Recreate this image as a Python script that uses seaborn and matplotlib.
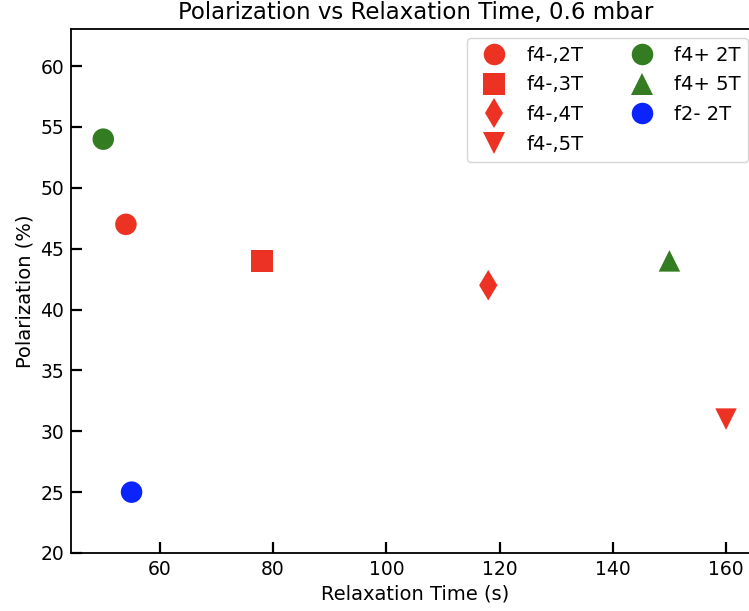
import matplotlib
matplotlib.use("Agg")
import matplotlib.pyplot as plt
import seaborn as sns
import pandas as pd

labels = ["f4-,2T", "f4-,3T", "f4-,4T", "f4-,5T", "f4+ 2T", "f4+ 5T", "f2- 2T"]
relax_time = [54, 78, 118, 160, 50, 150, 55]
polarization = [47, 44, 42, 31, 54, 44, 25]
colors = ["#ec3323", "#ec3323", "#ec3323", "#ec3323", "#347c22", "#347c22", "#0b24fb"]
markers = ["o", "s", "d", "v", "o", "^", "o"]

df = pd.DataFrame({"label": labels, "t": relax_time, "p": polarization})

sns.set_style("ticks")
plt.rcParams["font.family"] = ["DejaVu Sans"]
plt.rcParams["text.color"] = "black"
plt.rcParams["axes.labelcolor"] = "black"

fig = plt.figure(figsize=(7.49, 6.11), dpi=100)
ax = fig.add_axes([71 / 749, 58 / 611, 689 / 749, 524 / 611])

sns.scatterplot(data=df, x="t", y="p", hue="label", style="label",
                palette=dict(zip(labels, colors)), markers=dict(zip(labels, markers)),
                hue_order=labels, style_order=labels,
                s=240, edgecolor="none", ax=ax)

ax.set_xlim(44.3, 166.0)
ax.set_ylim(20, 63.05)
ax.set_xticks([60, 80, 100, 120, 140, 160])
ax.set_yticks([20, 25, 30, 35, 40, 45, 50, 55, 60])
ax.tick_params(direction="in", length=8, width=1.6, labelsize=13.5, colors="black", pad=5)
for sp in ax.spines.values():
    sp.set_linewidth(1.3)
    sp.set_color("black")
ax.set_xlabel("Relaxation Time (s)", fontsize=14, color="black")
ax.set_ylabel("Polarization (%)", fontsize=14, color="black")
ax.set_title("Polarization vs Relaxation Time, 0.6 mbar", fontsize=16.5, pad=7, color="black")

ax.legend(ncol=2, loc="upper right", bbox_to_anchor=(0.9826, 0.9828), borderaxespad=0,
          fontsize=14, frameon=True, labelspacing=0.55, handletextpad=0.65)

fig.savefig("out.png", dpi=100)
